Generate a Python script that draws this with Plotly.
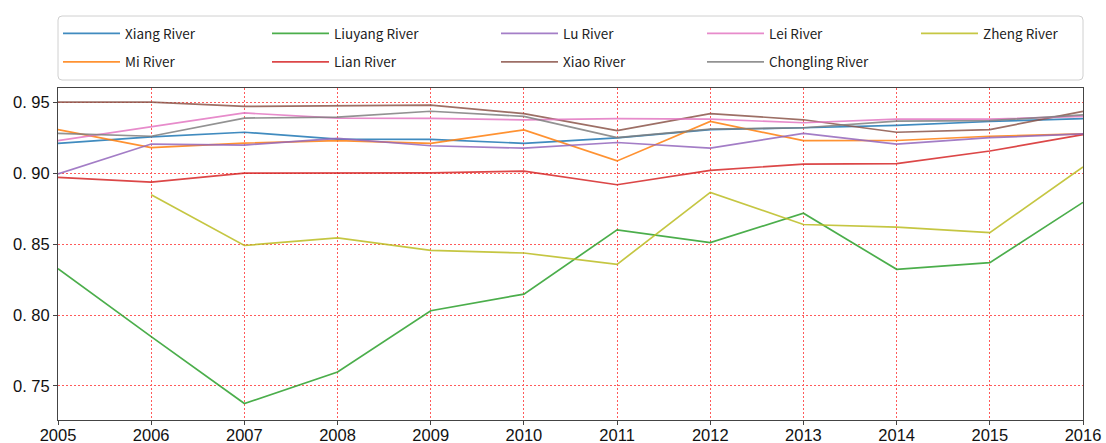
import plotly.graph_objects as go

# Yearly index per river, 2005-2016
years = list(range(2005, 2017))

xiang = [0.921, 0.9255, 0.9288, 0.924, 0.9238, 0.921, 0.9248, 0.9307, 0.932, 0.9336, 0.9364, 0.9384]
mi = [0.9307, 0.918, 0.9212, 0.9229, 0.921, 0.9305, 0.9086, 0.9364, 0.9229, 0.923, 0.926, 0.9276]
liuyang = [0.8327, 0.7848, 0.7376, 0.7598, 0.803, 0.8147, 0.860, 0.8511, 0.8717, 0.8322, 0.8369, 0.8794]
lian = [0.897, 0.8936, 0.900, 0.9003, 0.9002, 0.9014, 0.8918, 0.902, 0.9063, 0.9067, 0.9156, 0.9271]
lu = [0.8995, 0.9205, 0.9198, 0.9245, 0.9193, 0.9176, 0.9216, 0.9176, 0.928, 0.9205, 0.925, 0.9276]
xiao = [0.950, 0.950, 0.947, 0.9474, 0.9479, 0.942, 0.930, 0.942, 0.9376, 0.9288, 0.9307, 0.9436]
lei = [0.9229, 0.9324, 0.9424, 0.9388, 0.9386, 0.9376, 0.9384, 0.938, 0.9355, 0.938, 0.938, 0.940]
chongling = [0.928, 0.926, 0.9388, 0.9395, 0.9436, 0.940, 0.925, 0.931, 0.932, 0.9366, 0.937, 0.941]
zheng = [None, 0.8848, 0.849, 0.8544, 0.8455, 0.8437, 0.8357, 0.8864, 0.8638, 0.8619, 0.858, 0.9044]

names = ["Xiang River", "Mi River", "Liuyang River", "Lian River", "Lu River",
         "Xiao River", "Lei River", "Chongling River", "Zheng River"]
series = [xiang, mi, liuyang, lian, lu, xiao, lei, chongling, zheng]
colors = ["#1f77b4", "#ff7f0e", "#2ca02c", "#d62728", "#9467bd",
          "#8c564b", "#e377c2", "#7f7f7f", "#bcbd22"]

y_tick_vals = [0.75, 0.80, 0.85, 0.90, 0.95]
y_tick_text = ["0. 75", "0. 80", "0. 85", "0. 90", "0. 95"]

# plot-area geometry in pixels (used to place the legend columns)
W, H = 1106, 443
L, R, T, B = 58, 23, 88, 23
pw, ph = W - L - R, H - T - B


def px_x(x):
    return (x - L) / pw


def px_y(y):
    return (H - B - y) / ph


# legend: five columns, two entries each (column-major order)
legend_ids = ["legend", "legend2", "legend3", "legend4", "legend5"]
col_left = [58, 267, 496, 702, 916]

fig = go.Figure()
for i, (name, vals, col) in enumerate(zip(names, series, colors)):
    fig.add_trace(go.Scatter(
        x=years, y=vals, name=name, mode="lines",
        line=dict(color=col, width=1.7), opacity=0.85,
        legend=legend_ids[i // 2], legendgroup=name,
    ))

legend_font = dict(family="Noto Sans CJK SC", size=13.5, color="#222")
legend_cfg = {}
for lid, xl in zip(legend_ids, col_left):
    legend_cfg[lid] = dict(
        x=px_x(xl), y=px_y(18), xanchor="left", yanchor="top",
        orientation="v", bgcolor="rgba(0,0,0,0)", borderwidth=0,
        font=legend_font, itemwidth=57, tracegroupgap=8,
    )

# rounded frame around the legend
x0, x1 = px_x(58), px_x(1083)
y0, y1 = px_y(80), px_y(16)
rx, ry = 4 / pw, 4 / ph
frame = (f"M{x0+rx},{y1} L{x1-rx},{y1} Q{x1},{y1} {x1},{y1-ry} "
         f"L{x1},{y0+ry} Q{x1},{y0} {x1-rx},{y0} L{x0+rx},{y0} "
         f"Q{x0},{y0} {x0},{y0+ry} L{x0},{y1-ry} Q{x0},{y1} {x0+rx},{y1} Z")

tick_font = dict(family="Liberation Sans, Arial, sans-serif", size=16.5, color="#111")
grid_style = dict(showgrid=True, gridcolor="#ff5a5a",
                  griddash="2px,2px", gridwidth=1)
frame_style = dict(showline=True, linecolor="#444", linewidth=1, mirror=True,
                   ticks="outside", ticklen=4, tickcolor="#444",
                   tickfont=tick_font, zeroline=False, automargin=False)

fig.update_layout(
    width=W, height=H,
    margin=dict(l=L, r=R, t=T, b=B, autoexpand=False),
    paper_bgcolor="white", plot_bgcolor="white",
    showlegend=True,
    shapes=[dict(type="path", path=frame, xref="paper", yref="paper",
                 line=dict(color="#d0d0d0", width=1), fillcolor="rgba(255,255,255,0.85)",
                 layer="below")],
    xaxis=dict(
        range=[2005, 2016], tickmode="array", tickvals=years,
        ticktext=[str(y) for y in years], ticklabelstandoff=-4,
        **grid_style, **frame_style,
    ),
    yaxis=dict(
        range=[0.726, 0.960], tickmode="array", tickvals=y_tick_vals,
        ticktext=y_tick_text,
        **grid_style, **frame_style,
    ),
    **legend_cfg,
)

fig.write_html("out.html")
